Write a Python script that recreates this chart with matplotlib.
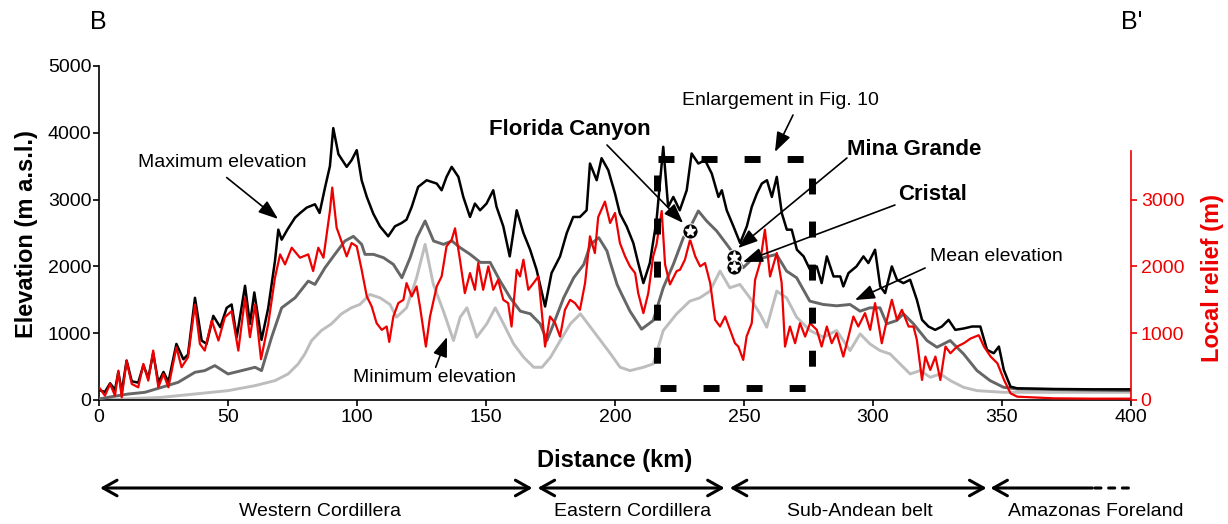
import matplotlib
matplotlib.use("Agg")
import matplotlib.pyplot as plt

plt.rcParams['font.family'] = ['Liberation Sans', 'DejaVu Sans']

# maximum elevation (black)
max_km = [0, 2.3, 4.3, 6.2, 7.5, 8.8, 10.7, 12.7, 15.2, 17.2, 19.1, 21, 23, 25, 26.9, 30, 32.7, 34.5,
          37.2, 39.8, 41.7, 44.3, 47, 49.5, 51.4, 53.4, 56.6, 58.5, 60.2, 63, 65.6, 68.2, 69.5, 70.8,
          73, 76, 78, 80.5, 83.7, 85.5, 87.6, 89.5, 90.8, 92.8, 96, 97.9, 99.9, 101.8, 103.8, 106.3,
          108.9, 112.1, 114.7, 117.3, 119.2, 121.2, 123.7, 127, 130.9, 132.8, 134.7, 136.7, 139.3, 141.2,
          143.8, 145.7, 147.7, 150.2, 152.8, 154.1, 156.7, 159.2, 161.9, 164.5, 167.1, 169.6, 172.9, 175.4,
          178.7, 181.3, 183.8, 186.4, 189, 190.3, 192.9, 194.8, 197.4, 200, 201.9, 204.5, 207.1, 209,
          211, 213.5, 216.1, 218.7, 220.6, 222.6, 225.1, 227.8, 229.7, 232.3, 234.9, 237.5, 240.1, 241.4,
          243.3, 245.9, 248.5, 251.1, 253, 255, 256.9, 258.9, 260.8, 262.7, 264.7, 266.6, 268.5, 270.5,
          273.1, 275.6, 278.2, 280.1, 282.1, 284.7, 287.3, 288.5, 290.5, 293.6, 296.3, 298.2, 300.8, 302.8,
          304.7, 307.3, 309.3, 311.8, 314.4, 317, 319, 321.5, 324.1, 326.7, 329.3, 331.9, 335.1, 338.4,
          341.6, 344.2, 346.8, 348.8, 350.7, 353.3, 355.9, 370, 385, 400]
max_elev = [150, 120, 250, 150, 420, 120, 590, 280, 260, 520, 330, 700, 260, 420, 270, 840, 610, 680,
            1530, 890, 840, 1260, 1090, 1380, 1430, 940, 1710, 1140, 1610, 900, 1380, 2080, 2550, 2400,
            2550, 2730, 2800, 2880, 2930, 2800, 3180, 3500, 4070, 3680, 3490, 3590, 3740, 3290, 3040, 2790,
            2600, 2450, 2600, 2650, 2700, 2890, 3190, 3290, 3240, 3140, 3340, 3490, 3340, 3040,
            2740, 2940, 2840, 2940, 3140, 2890, 2600, 2150, 2840, 2500, 2250, 1950, 1400, 1900,
            2150, 2500, 2740, 2740, 2840, 3540, 3290, 3620, 3440, 3090, 2790, 2600, 2350, 2050,
            1750, 2050, 2690, 3790, 2890, 3040, 2840, 3140, 3690, 3540, 3590, 3390, 3040, 3140,
            2840, 2600, 2350, 2600, 2890, 3090, 3240, 3290, 3040, 3340, 2790, 2550, 2550, 2250,
            2150, 1950, 2000, 1750, 2150, 1850, 1850, 1700, 1900, 2000, 2150, 2050, 2250, 1700,
            1600, 2000, 1800, 1750, 1800, 1500, 1200, 1100, 1050, 1100, 1200, 1050, 1070, 1100,
            1100, 750, 700, 800, 450, 200, 175, 165, 160, 160]

# mean elevation (dark grey)
mean_km = [0, 5, 11.4, 17.8, 24.3, 30.7, 37.2, 41, 44.9, 50, 55.3, 60.5, 63, 66.9, 70.8, 76, 81.1, 83.7,
           87.6, 91.4, 95.3, 98.6, 101.8, 103.1, 106.4, 110.3, 114.1, 117.4, 120.6, 123.2, 126.4, 129.7,
           133.5, 136.8, 140, 143.9, 147.8, 151.6, 155.5, 159.4, 163.3, 167.2, 171, 173.6, 176.2, 180.1,
           184, 187.9, 190.5, 193.7, 196.9, 198, 200.8, 202, 205.8, 210.3, 214.8, 218.7, 222.6, 226.5,
           229.7, 232.3, 235.5, 239.4, 243.3, 247.1, 249.7, 253.6, 257.5, 262.6, 266.5, 270.4, 275.5,
           280.7, 285.9, 291.1, 295, 298.8, 302.7, 305.3, 309.2, 311.8, 315.7, 320.9, 324.8, 329.9,
           335.1, 340.3, 345.4, 350.6, 355.8, 400]
mean_elev = [15, 50, 90, 115, 190, 265, 415, 440, 515, 390, 440, 490, 440, 940, 1380, 1530, 1780, 1730,
             1980, 2180, 2380, 2450, 2330, 2180, 2180, 2130, 2030, 1830, 2130, 2430, 2680, 2380,
             2330, 2380, 2280, 2180, 2060, 2060, 1780, 1530, 1330, 1290, 1140, 890, 1140, 1530,
             1830, 2030, 2330, 2430, 2230, 2080, 1730, 1630, 1330, 1060, 1190, 1680, 2030, 2430,
             2630, 2830, 2680, 2530, 2330, 2130, 1980, 2130, 2130, 2180, 1930, 1830, 1480,
             1430, 1410, 1430, 1330, 1380, 1380, 1140, 1190, 1290, 1140, 890, 790, 890,
             690, 440, 290, 190, 165, 140]

# minimum elevation (light grey)
min_km = [0, 24.3, 37.2, 50, 60.5, 68.2, 73.3, 77.2, 79.8, 82.4, 86.2, 90.1, 94, 97.8, 101.1, 105, 108.9,
          112.8, 115.3, 119.2, 123.1, 126.4, 129.6, 133.5, 137.4, 140, 142.6, 146.4, 150.3, 153.6, 156.8,
          160.7, 164.6, 168.5, 171.7, 175, 178.8, 182.7, 186.6, 190.5, 194.4, 198.3, 202, 205.8, 211,
          214.8, 218.7, 223.9, 229, 232.9, 236.8, 240.7, 244.5, 248.4, 252.3, 256.2, 258.8, 262.7, 266.5,
          270.4, 275.6, 280.8, 285.9, 291.1, 295, 298.8, 302.7, 306.6, 310.5, 314.4, 318.3, 322.2, 326.1,
          330, 335.1, 340.3, 350.6, 400]
min_elev = [0, 40, 90, 140, 215, 290, 390, 540, 690, 890, 1040, 1140, 1290, 1380, 1430, 1580, 1530,
            1430, 1240, 1380, 1830, 2330, 1730, 1330, 890, 1240, 1380, 940, 1140, 1380, 1140,
            840, 640, 490, 490, 640, 890, 1140, 1290, 1090, 890, 690, 490, 440, 490,
            540, 1040, 1290, 1480, 1530, 1630, 1930, 1680, 1730, 1530, 1290, 1090, 1630, 1530,
            1240, 1040, 940, 1040, 740, 990, 840, 740, 690, 540, 390, 440, 340, 390,
            290, 190, 140, 115, 115]

# local relief (red, right axis)
rel_km = [0, 2.3, 4.3, 6.2, 7.5, 8.8, 10.7, 12.7, 15.2, 17.2, 19.1, 21, 23, 25, 26.9, 30, 32, 34.5, 37.2,
          39.1, 41, 43.7, 46.3, 48.8, 51.4, 54, 56.6, 58.5, 60.5, 62.8, 65.6, 68.2, 70.2, 72.1, 74.7, 77.9,
          81.1, 83, 85, 87, 89.5, 90.4, 92.1, 93.4, 96, 97.9, 99.9, 101.8, 103.8, 105.7, 107.6, 109.6,
          111.5, 112.5, 114.1, 116, 118, 119.2, 121.2, 123.1, 124.4, 126.7, 128.3, 130.9, 132.8, 134.7,
          136.7, 138, 139.9, 141.8, 143.8, 145.7, 147, 148.9, 150.9, 152.8, 154.7, 156.7, 158.6, 159.9,
          161.9, 163.2, 164.5, 166.4, 168.4, 170.3, 172.9, 174.8, 176.8, 178.7, 180.6, 182.6, 184.5,
          186.4, 188.4, 190.3, 192.2, 193.5, 196.1, 198.1, 200, 201.9, 203.9, 205.8, 207.8, 209, 211,
          212.9, 214.8, 216.1, 218.1, 219.4, 221.3, 223.9, 225.2, 227.1, 229.1, 231.1, 233, 234.9, 236.9,
          238.8, 240.7, 242.7, 244.6, 246.5, 247.8, 249.7, 251, 253, 254.3, 256.2, 258.1, 260.1, 262.7,
          264.6, 265.9, 267.8, 269.8, 271.7, 273.7, 275.6, 278.2, 280.1, 282.1, 284, 285.9, 288.5, 290.5,
          292.4, 294.3, 296.9, 298.9, 300.8, 303.4, 305.4, 307.3, 309.3, 311.2, 313.8, 315.7, 317, 319,
          320.3, 322.2, 324.2, 326.1, 328.1, 330, 332.6, 335.2, 337.8, 341, 343, 345.6, 348.2, 350.8,
          353.3, 355.9, 370, 385, 400]
relief = [190, 65, 240, 65, 440, 40, 590, 240, 190, 540, 290, 740, 190, 390, 190, 790, 490, 640, 1430,
          840, 740, 1190, 890, 1240, 1330, 740, 1530, 940, 1430, 610, 1140, 1830, 2180, 2030, 2280, 2130,
          2180, 1930, 2280, 2130, 2830, 3180, 2580, 2440, 2150, 2350, 2300, 1950, 1550, 1400, 1150, 1050,
          1100, 870, 1250, 1450, 1500, 1750, 1550, 1700, 1400, 800, 1250, 1700, 1850, 2300,
          2400, 2570, 2100, 1600, 1900, 1650, 2050, 1650, 2000, 1650, 1800, 1500, 1450, 1100,
          1950, 1850, 2100, 1650, 1750, 1850, 800, 1250, 1150, 950, 1350, 1500, 1450,
          1350, 1750, 2450, 2200, 2740, 2970, 2650, 2800, 2350, 2150, 2000, 1900, 1600, 1300,
          1600, 2150, 2330, 2830, 2030, 1730, 1930, 1950, 2100, 2400, 2150, 2000, 2050, 1750,
          1200, 1100, 1250, 1050, 850, 800, 600, 950, 1150, 1800, 2050, 2550, 1850, 2200,
          1750, 800, 1100, 850, 1150, 950, 1150, 1050, 800, 1100, 850, 1000, 650, 950,
          1250, 1100, 1300, 1050, 1450, 850, 1200, 1500, 1200, 1350, 1100, 1100, 900, 300,
          650, 450, 650, 300, 800, 700, 800, 850, 920, 970, 800, 650, 550, 300,
          100, 50, 25, 20, 20]

x_ticks = [0, 50, 100, 150, 200, 250, 300, 350, 400]
y_ticks = [0, 1000, 2000, 3000, 4000, 5000]
relief_ticks = [0, 1000, 2000, 3000]

regions = ["Western Cordillera", "Eastern Cordillera", "Sub-Andean belt", "Amazonas Foreland"]
region_bounds = [(0.4, 168), (170, 242.5), (244.5, 344), (345.5, 385)]
region_centers = [85.7, 207, 295, 386.4]

W, H = 1228, 524
fig = plt.figure(figsize=(W / 100, H / 100), dpi=100)
ax = fig.add_axes([99 / W, 124 / H, 1032 / W, 334 / H])

ax.plot(min_km, min_elev, color='#bdbdbd', lw=2.1, zorder=2)
ax.plot(mean_km, mean_elev, color='#666666', lw=2.1, zorder=3)
ax.plot(max_km, max_elev, color='black', lw=1.8, zorder=4)

ax.set_xlim(0, 400)
ax.set_ylim(0, 5000)
ax.set_xticks(x_ticks)
ax.set_yticks(y_ticks)
ax.tick_params(labelsize=14, length=4, width=1.2, pad=1.5)
ax.tick_params(axis='x', pad=2.5)
for s in ['top', 'right']:
    ax.spines[s].set_visible(False)
for s in ['left', 'bottom']:
    ax.spines[s].set_linewidth(1.2)

ax2 = ax.twinx()
ax2.plot(rel_km, relief, color='#ee0000', lw=1.6, zorder=5)
ax2.set_ylim(0, 5000)
ax2.set_yticks(relief_ticks)
ax2.tick_params(axis='y', colors='#ee0000', labelsize=14, length=4, width=1.2, pad=3)
for s in ['top', 'left', 'bottom']:
    ax2.spines[s].set_visible(False)
ax2.spines['right'].set_color('#ee0000')
ax2.spines['right'].set_linewidth(1.2)
ax2.spines['right'].set_bounds(0, 3730)

# dashed enlargement box
box_kw = dict(color='black', lw=5, solid_capstyle='butt', dash_capstyle='butt',
              linestyle=(0, (2.3, 3.9)), zorder=8, clip_on=False)
ax2.plot([216.7, 276.4], [3603, 3603], **box_kw)
ax2.plot([217.4, 276.4], [175, 175], **box_kw)
ax2.plot([216.2, 216.2], [3368, 150], **box_kw)
ax2.plot([276.4, 276.4], [3323, 150], **box_kw)

# deposit stars
star_km = [229, 246.1, 246.1]
star_elev = [2530, 2141, 1991]
ax2.plot(star_km, star_elev, 'o', ms=11, color='black', mec='white', mew=0.8, zorder=9)
ax2.plot(star_km, star_elev, '*', ms=8, color='white', zorder=10)

arrow = dict(arrowstyle='-|>,head_length=0.6,head_width=0.22', color='black', lw=1.2,
             mutation_scale=20, shrinkA=0, shrinkB=0)
ann_fs = 14
ax2.text(47.7, 3548, "Maximum elevation", fontsize=ann_fs, ha='center', va='center', zorder=11)
ax2.annotate('', xy=(69.4, 2710), xytext=(49.5, 3330), arrowprops=arrow, zorder=11)
ax2.text(130.2, 330, "Minimum elevation", fontsize=ann_fs, ha='center', va='center', zorder=11)
ax2.annotate('', xy=(134.9, 943), xytext=(130.5, 490), arrowprops=arrow, zorder=11)
ax2.text(347.7, 2141, "Mean elevation", fontsize=ann_fs, ha='center', va='center', zorder=11)
ax2.annotate('', xy=(293, 1497), xytext=(320.2, 1976), arrowprops=arrow, zorder=11)
ax2.text(264.3, 4491, "Enlargement in Fig. 10", fontsize=ann_fs, ha='center', va='center', zorder=11)
ax2.annotate('', xy=(262, 3713), xytext=(269, 4266), arrowprops=arrow, zorder=11)

ax2.text(182.6, 4042, "Florida Canyon", fontsize=16, fontweight='bold', ha='center', va='center', zorder=11)
ax2.annotate('', xy=(226.4, 2650), xytext=(196.9, 3817), arrowprops=arrow, zorder=11)
ax2.text(315.9, 3743, "Mina Grande", fontsize=16, fontweight='bold', ha='center', va='center', zorder=11)
ax2.annotate('', xy=(247.7, 2275), xytext=(289.9, 3623), arrowprops=arrow, zorder=11)
ax2.text(322.9, 3069, "Cristal", fontsize=16, fontweight='bold', ha='center', va='center', zorder=11)
ax2.annotate('', xy=(249.6, 2066), xytext=(308.5, 2919), arrowprops=arrow, zorder=11)

# axis labels
fig.text(27 / W, 1 - 234 / H, "Elevation (m a.s.l.)", rotation=90, fontsize=17, fontweight='bold',
         ha='center', va='center')
fig.text(1212 / W, 1 - 278 / H, "Local relief (m)", rotation=90, fontsize=17, fontweight='bold',
         color='#ee0000', ha='center', va='center')
fig.text(615 / W, 1 - 460 / H, "Distance (km)", fontsize=17, fontweight='bold', ha='center', va='center')
fig.text(90 / W, 1 - 22 / H, "B", fontsize=18, ha='left', va='center')
fig.text(1121 / W, 1 - 22 / H, "B'", fontsize=18, ha='left', va='center')

# tectonic domains below the axis
y_arr = (H - 488) / H
y_lab = (H - 512) / H
for i, (a, b) in enumerate(region_bounds):
    style = '<->' if i < 3 else '<-'
    ax.annotate('', xy=(b, y_arr), xytext=(a, y_arr),
                xycoords=('data', 'figure fraction'), textcoords=('data', 'figure fraction'),
                arrowprops=dict(arrowstyle=style + ',head_length=0.5,head_width=0.28', color='black',
                                lw=2.2, mutation_scale=20, shrinkA=0, shrinkB=0),
                annotation_clip=False)
ax.annotate('', xy=(399, y_arr), xytext=(386, y_arr),
            xycoords=('data', 'figure fraction'), textcoords=('data', 'figure fraction'),
            arrowprops=dict(arrowstyle='-', color='black', lw=2.2, linestyle=(0, (2, 2.5)),
                            shrinkA=0, shrinkB=0),
            annotation_clip=False)
for name, c in zip(regions, region_centers):
    ax.annotate(name, xy=(c, y_lab), xycoords=('data', 'figure fraction'), fontsize=14,
                ha='center', va='center', annotation_clip=False)

fig.savefig("out.png", dpi=100)
